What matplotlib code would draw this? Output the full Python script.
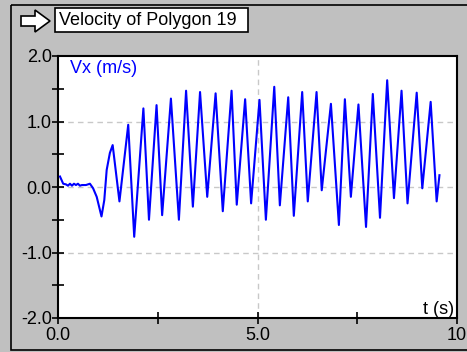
import matplotlib
matplotlib.use('Agg')
import matplotlib.pyplot as plt
from matplotlib.patches import Rectangle, Polygon
from matplotlib.ticker import MultipleLocator, FuncFormatter

# values
t_vals = [0.05, 0.13, 0.20, 0.25, 0.30, 0.35, 0.40, 0.45, 0.50, 0.55, 0.60, 0.70,
          0.80, 0.88, 0.97, 1.03, 1.09, 1.16, 1.22, 1.30, 1.37,
          1.54, 1.76, 1.91, 2.14, 2.28, 2.47, 2.61, 2.83, 3.03, 3.21,
          3.38, 3.56, 3.74, 3.95, 4.13, 4.35, 4.48, 4.69, 4.84, 5.05,
          5.21, 5.42, 5.56, 5.77, 5.91, 6.12, 6.26, 6.48, 6.61, 6.84,
          7.04, 7.19, 7.34, 7.53, 7.72, 7.89, 8.07, 8.25, 8.42, 8.61,
          8.76, 8.99, 9.13, 9.34, 9.49, 9.56]
vx_vals = [0.16, 0.05, 0.04, 0.02, 0.05, 0.02, 0.05, 0.03, 0.05, 0.02, 0.03, 0.03,
           0.05, -0.02, -0.15, -0.30, -0.45, -0.20, 0.26, 0.52, 0.64,
           -0.22, 0.95, -0.76, 1.20, -0.50, 1.25, -0.43, 1.35, -0.50, 1.47,
           -0.30, 1.45, -0.15, 1.43, -0.37, 1.47, -0.27, 1.34, -0.25, 1.33,
           -0.50, 1.53, -0.28, 1.37, -0.44, 1.45, -0.22, 1.45, -0.05, 1.27,
           -0.58, 1.34, -0.15, 1.26, -0.61, 1.42, -0.47, 1.63, -0.17, 1.47,
           -0.25, 1.44, -0.02, 1.30, -0.22, 0.18]

title = 'Velocity of Polygon 19'
y_label = 'Vx (m/s)'
x_label = 't (s)'

W, H = 467, 352
plt.rcParams['font.family'] = ['Liberation Sans', 'DejaVu Sans']
plt.rcParams['font.size'] = 13

fig = plt.figure(figsize=(W / 100, H / 100), dpi=100)
fig.patch.set_facecolor('#c0c0c0')

# background layer in pixel coords
bg = fig.add_axes([0, 0, 1, 1])
bg.set_xlim(0, W)
bg.set_ylim(H, 0)
bg.axis('off')
bg.add_patch(Rectangle((11, 5), 470, 345, fill=False, edgecolor='black', lw=1.2))
bg.add_patch(Rectangle((55, 8), 193, 24, facecolor='white', edgecolor='black', lw=1.2))
bg.text(59, 20.5, title, ha='left', va='center', fontsize=13)
arrow = [(21, 16), (35, 16), (35, 10), (50, 21), (35, 32), (35, 26), (21, 26)]
bg.add_patch(Polygon(arrow, closed=True, facecolor='white', edgecolor='black', lw=1.2))

ax = fig.add_axes([58 / W, 1 - 318 / H, (457 - 58) / W, (318 - 56) / H])
ax.set_facecolor('white')
ax.set_xlim(0, 10)
ax.set_ylim(-2, 2)

for y in [-1, 0, 1]:
    ax.axhline(y, color='#c8c8c8', lw=1, ls=(0, (4, 3)), zorder=1)
ax.axvline(5, color='#c8c8c8', lw=1, ls=(0, (4, 3)), zorder=1)

ax.plot(t_vals, vx_vals, color='#0000ff', lw=1.5, zorder=3)

ax.xaxis.set_major_locator(MultipleLocator(2.5))
ax.yaxis.set_major_locator(MultipleLocator(0.5))
ax.xaxis.set_major_formatter(FuncFormatter(lambda v, p: '%.0f' % v if v == 10 else ('%.1f' % v if v % 5 == 0 else '')))
ax.yaxis.set_major_formatter(FuncFormatter(lambda v, p: '%.1f' % v if v % 1 == 0 else ''))
ax.tick_params(direction='inout', length=9, width=1.2, pad=0, labelsize=13)
ax.tick_params(axis='x', pad=2)
for s in ax.spines.values():
    s.set_linewidth(1.5)

ax.text(0.03, 0.985, y_label, transform=ax.transAxes, color='#0000ff', ha='left', va='top', fontsize=13)
ax.text(0.993, 0.0, x_label, transform=ax.transAxes, ha='right', va='bottom', fontsize=13)

fig.savefig('out.png', dpi=100, facecolor=fig.get_facecolor())
